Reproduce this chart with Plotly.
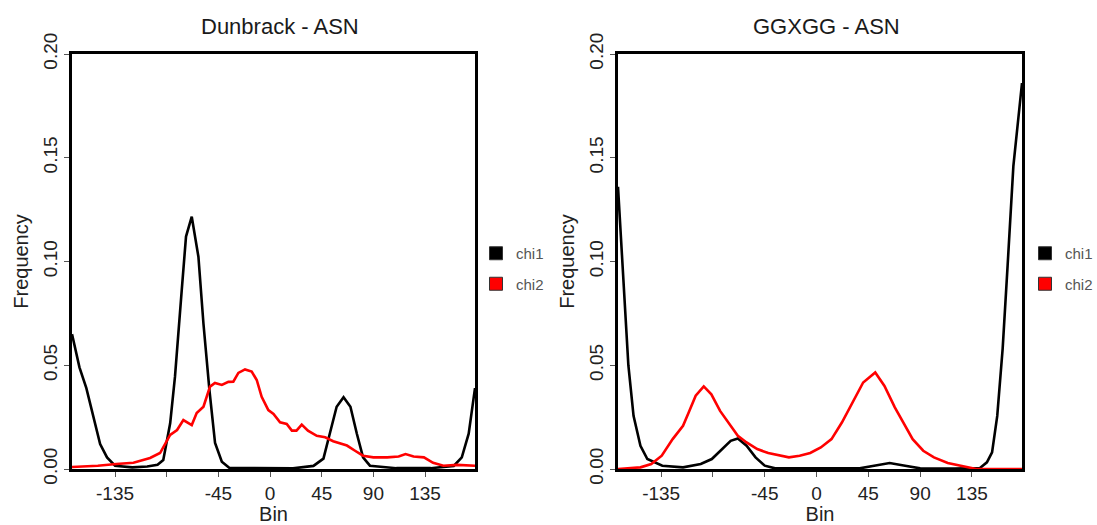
import plotly.graph_objects as go

# ---- data ----
dun_chi1_x = [-172.5, -166, -160, -154, -148, -142, -135, -120, -107, -98, -93, -87, -82.8, -76.9, -73.2,
              -68.2, -62.4, -58, -52.8, -47.9, -42, -35.6, -10, 20, 37.8, 46.5, 52, 58, 64, 70, 75.6, 81, 87,
              110, 140, 160, 167, 173, 178.5]
dun_chi1_y = [0.065, 0.049, 0.039, 0.025, 0.012, 0.0056, 0.0016, 0.0008, 0.0012, 0.002, 0.0043, 0.022,
              0.0445, 0.0863, 0.112, 0.1216, 0.1023, 0.070, 0.038, 0.0125, 0.0035, 0.0006, 0.0003, 0.0003,
              0.0015, 0.005, 0.017, 0.030, 0.0346, 0.030, 0.017, 0.0056, 0.0016, 0.0004, 0.0004, 0.0015,
              0.0056, 0.017, 0.039]

dun_chi2_x = [-172.5, -150, -134, -119, -104.5, -95.8, -87, -81, -75.5, -72.6, -68.2, -63.9, -58, -52.3, -48,
              -42, -36.3, -32, -27.6, -21.8, -16, -11.6, -7.3, -1.5, 3, 8.7, 14.5, 19, 23, 27.6, 33, 40.7,
              48, 55, 67, 74, 81, 90, 102, 112, 118, 125, 134, 142, 151, 163, 178.5]
dun_chi2_y = [0.001, 0.0016, 0.0024, 0.003, 0.0053, 0.0077, 0.0164, 0.0188, 0.0236, 0.0225, 0.0212, 0.027,
              0.030, 0.0397, 0.0415, 0.0405, 0.042, 0.0421, 0.0463, 0.048, 0.047, 0.0429, 0.0348, 0.0284,
              0.0265, 0.0225, 0.0217, 0.0185, 0.0185, 0.0214, 0.0185, 0.016, 0.0153, 0.0134, 0.0113, 0.0088,
              0.0064, 0.0056, 0.0056, 0.006, 0.0072, 0.006, 0.0056, 0.003, 0.0016, 0.002, 0.0016]

gg_chi1_x = [-172.5, -168, -163.5, -159, -153, -147, -134, -116, -100.6, -91, -82, -74.6, -68.4, -60.8, -53,
             -45, -36, 0, 37.4, 50, 63.5, 77, 90, 120, 142, 148, 152.5, 157, 161.7, 166, 171, 178.5]
gg_chi1_y = [0.136, 0.090, 0.050, 0.0256, 0.0112, 0.0048, 0.0016, 0.0008, 0.0024, 0.0048, 0.0096, 0.0136,
             0.0147, 0.0112, 0.0056, 0.0016, 0.0003, 0.0002, 0.0003, 0.0016, 0.0029, 0.0016, 0.0003, 0.0002,
             0.0005, 0.0032, 0.008, 0.0256, 0.058, 0.098, 0.146, 0.186]

gg_chi2_x = [-172.5, -153, -143.6, -134.5, -125, -116, -111, -105, -98, -91.4, -83.8, -76, -68.4, -60.8,
             -51.5, -42, -33, -24, -14.7, -5.5, 3.7, 13, 22, 31.3, 40.5, 51, 59, 68, 76, 83.5, 92.7, 102, 114,
             126.4, 138.7, 178.5]
gg_chi2_y = [0.0, 0.0008, 0.0024, 0.0064, 0.0144, 0.0208, 0.0273, 0.0353, 0.0398, 0.036, 0.028, 0.0216,
             0.016, 0.0128, 0.0096, 0.0077, 0.0067, 0.0056, 0.0064, 0.0077, 0.0104, 0.0144, 0.0224, 0.032,
             0.0417, 0.0465, 0.040, 0.0297, 0.0216, 0.0144, 0.0088, 0.0056, 0.0029, 0.0013, 0.0, 0.0]

series_names = ["chi1", "chi2"]
series_colors = ["#000000", "#ff0000"]
panel_titles = ["Dunbrack - ASN", "GGXGG - ASN"]
x_tickvals = [-135, -90, -45, 0, 45, 90, 135]
x_ticktext = ["-135", "", "-45", "0", "45", "90", "135"]
y_tickvals = [0.0, 0.05, 0.10, 0.15, 0.20]
y_ticktext = ["0.00", "0.05", "0.10", "0.15", "0.20"]

W, H = 1097, 525
FONT = "Liberation Sans, Arial, sans-serif"

def px_x(p):
    return p / W

def px_y(p):
    return 1 - p / H

fig = go.Figure()

panels = [
    ("x", "y", "legend", [(dun_chi1_x, dun_chi1_y), (dun_chi2_x, dun_chi2_y)]),
    ("x2", "y2", "legend2", [(gg_chi1_x, gg_chi1_y), (gg_chi2_x, gg_chi2_y)]),
]
for xa, ya, lg, data in panels:
    for (xs, ys), name, col in zip(data, series_names, series_colors):
        fig.add_trace(go.Scatter(x=xs, y=ys, mode="lines", xaxis=xa, yaxis=ya,
                                 line=dict(color=col, width=2.6), showlegend=False))
    for name, col in zip(series_names, series_colors):
        fig.add_trace(go.Scatter(x=[None], y=[None], mode="markers", xaxis=xa, yaxis=ya,
                                 marker=dict(symbol="square", size=13, color=col,
                                             line=dict(color="#333", width=1)),
                                 name=name, legend=lg, legendgroup=lg + name, showlegend=True))

ydom = [px_y(469), px_y(54)]
xdoms = [[px_x(72), px_x(475)], [px_x(618), px_x(1022)]]

def xaxis_cfg(dom, anchor):
    return dict(domain=dom, anchor=anchor, range=[-172.5, 178.5], showgrid=False, zeroline=False,
                showline=True, mirror=True, linecolor="black", linewidth=2.5, automargin=False,
                ticks="outside", ticklen=5, tickcolor="#555", tickwidth=1,
                tickvals=x_tickvals, ticktext=x_ticktext,
                tickfont=dict(family=FONT, size=19, color="#222"),
                title=dict(text="Bin", font=dict(family=FONT, size=20, color="#222"), standoff=3))

def yaxis_cfg(anchor):
    return dict(domain=ydom, anchor=anchor, range=[0, 0.2], showgrid=False, zeroline=False,
                showline=True, mirror=True, linecolor="black", linewidth=2.5, automargin=False,
                ticks="outside", ticklen=5, tickcolor="#555", tickwidth=1,
                tickvals=y_tickvals, ticktext=y_ticktext, tickangle=-90,
                tickfont=dict(family=FONT, size=19, color="#222"),
                title=dict(text="Frequency", font=dict(family=FONT, size=20, color="#222"), standoff=6))

legend_common = dict(font=dict(family=FONT, size=15, color="#555"), bgcolor="rgba(0,0,0,0)",
                     xanchor="left", yanchor="top", tracegroupgap=8, itemclick=False)

fig.update_layout(
    width=W, height=H, margin=dict(l=0, r=0, t=0, b=0, autoexpand=False),
    paper_bgcolor="white", plot_bgcolor="white",
    xaxis=xaxis_cfg(xdoms[0], "y"), yaxis=yaxis_cfg("x"),
    xaxis2=xaxis_cfg(xdoms[1], "y2"), yaxis2=yaxis_cfg("x2"),
    legend=dict(x=px_x(476), y=px_y(237), **legend_common),
    legend2=dict(x=px_x(1025), y=px_y(237), **legend_common),
    annotations=[
        dict(text=panel_titles[0], x=px_x(280), y=px_y(26), xref="paper", yref="paper",
             showarrow=False, font=dict(family=FONT, size=22, color="#1a1a1a"), xanchor="center", yanchor="middle"),
        dict(text=panel_titles[1], x=px_x(826), y=px_y(26), xref="paper", yref="paper",
             showarrow=False, font=dict(family=FONT, size=22, color="#1a1a1a"), xanchor="center", yanchor="middle"),
    ],
)

fig.write_html("out.html", config={"displayModeBar": False},
               post_script="document.body.style.margin='0';document.body.style.overflow='hidden';")
